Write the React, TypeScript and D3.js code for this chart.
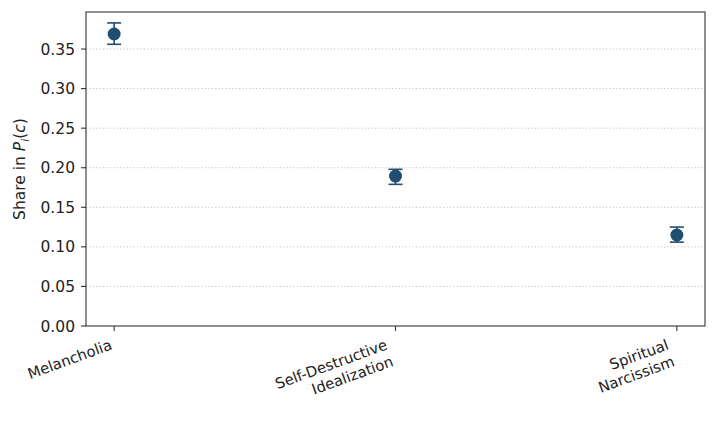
import React from "react";
import * as d3 from "d3";

const categories: string[][] = [["Melancholia"], ["Self-Destructive", "Idealization"], ["Spiritual", "Narcissism"]];
const shares: number[] = [0.369, 0.1895, 0.115];
const errLow: number[] = [0.356, 0.179, 0.106];
const errHigh: number[] = [0.383, 0.198, 0.125];
const yTicks: number[] = [0, 0.05, 0.1, 0.15, 0.2, 0.25, 0.3, 0.35];

const W = 718, H = 426;
const left = 86, right = 705, top = 12, bottom = 326;
const color = "#1f4e6f";
const font = "DejaVu Sans, sans-serif";
const tickLen = 5;
const pad = 5;

export default function App() {
  const x = d3.scaleLinear().domain([-0.1, 2.1]).range([left, right]);
  const y = d3.scaleLinear().domain([0, 0.3968]).range([bottom, top]);
  const fmt = d3.format(".2f");
  const xfs = 14.8;
  const lh = xfs * 1.2;
  const rad = (20 * Math.PI) / 180;
  return (
    <svg width={W} height={H} style={{ position: "absolute", left: 0, top: 0, background: "#fff" }} fontFamily={font}>
      {yTicks.slice(1).map((t) => (
        <line key={"g" + t} x1={left} x2={right} y1={y(t)} y2={y(t)} stroke="#bbb" strokeWidth={0.9} strokeDasharray="1.2,2.2" />
      ))}
      {yTicks.map((t) => (
        <g key={"y" + t}>
          <line x1={left - tickLen} x2={left} y1={y(t)} y2={y(t)} stroke="#333" strokeWidth={1.1} />
          <text x={left - tickLen - pad - 1} y={y(t)} dy="0.36em" textAnchor="end" fontSize={15.5} fill="#222">{fmt(t)}</text>
        </g>
      ))}
      {categories.map((c, i) => {
        const n = c.length;
        const h = xfs * 1.17 + (n - 1) * lh;
        const ty = bottom + tickLen + pad + h * Math.cos(rad);
        return (
          <g key={"x" + i}>
            <line x1={x(i)} x2={x(i)} y1={bottom} y2={bottom + tickLen} stroke="#333" strokeWidth={1.1} />
            <g transform={`translate(${x(i)},${ty}) rotate(-20)`}>
              {c.map((s, j) => (
                <text key={j} x={0} y={-xfs * 0.24 - (n - 1 - j) * lh} textAnchor="end" fontSize={xfs} fill="#222">{s}</text>
              ))}
            </g>
          </g>
        );
      })}
      {shares.map((v, i) => (
        <g key={"p" + i}>
          <line x1={x(i)} x2={x(i)} y1={y(errLow[i])} y2={y(errHigh[i])} stroke={color} strokeWidth={1.6} />
          <line x1={x(i) - 7} x2={x(i) + 7} y1={y(errLow[i])} y2={y(errLow[i])} stroke={color} strokeWidth={1.6} />
          <line x1={x(i) - 7} x2={x(i) + 7} y1={y(errHigh[i])} y2={y(errHigh[i])} stroke={color} strokeWidth={1.6} />
          <circle cx={x(i)} cy={y(v)} r={6.5} fill={color} />
        </g>
      ))}
      <rect x={left} y={top} width={right - left} height={bottom - top} fill="none" stroke="#333" strokeWidth={1.1} />
      <text transform={`translate(25,${(top + bottom) / 2}) rotate(-90)`} textAnchor="middle" fontSize={15.5} fill="#222">
        Share in <tspan fontStyle="italic">P</tspan><tspan fontStyle="italic" fontSize={11} dy={3.5}>i</tspan><tspan dy={-3.5}>(</tspan><tspan fontStyle="italic">c</tspan>)
      </text>
    </svg>
  );
}
